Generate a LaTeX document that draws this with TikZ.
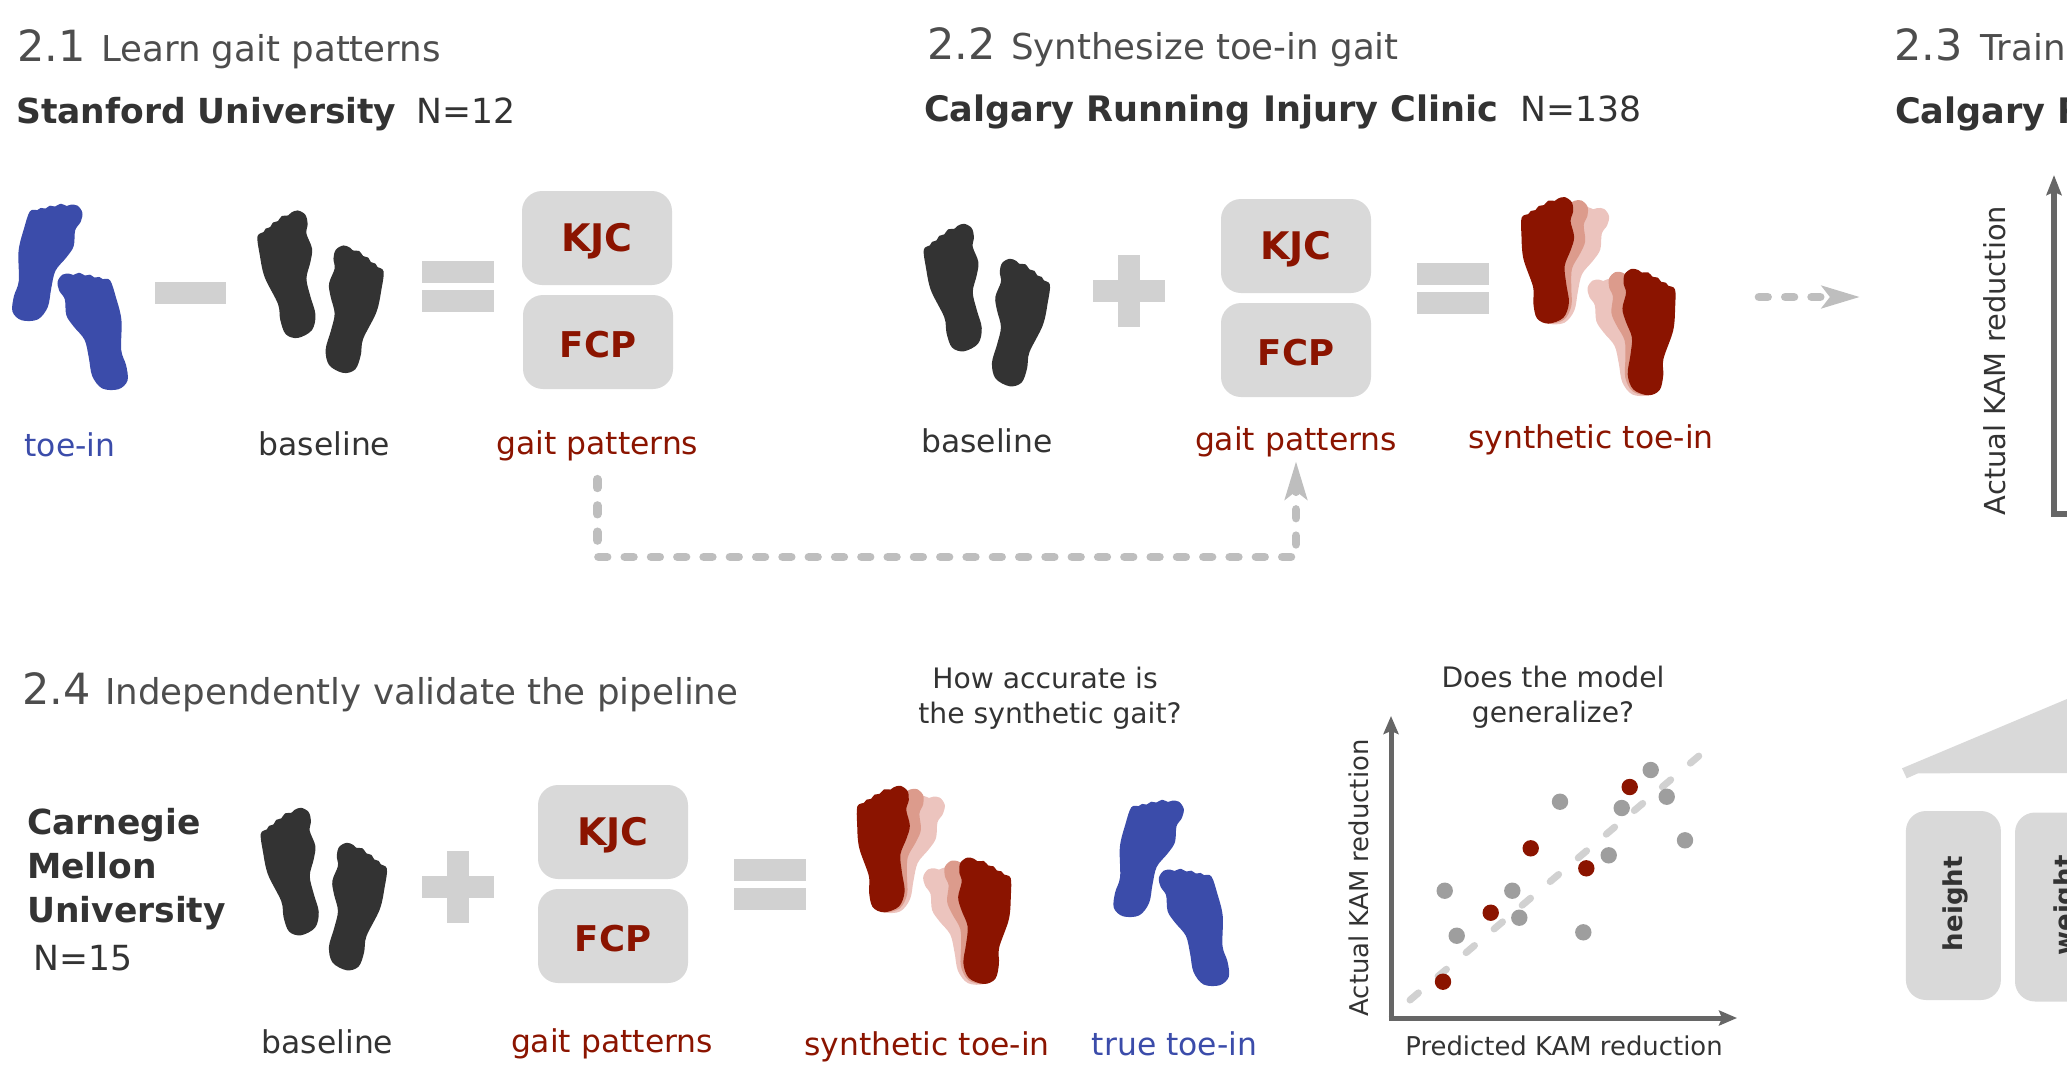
\documentclass[tikz,border=0pt]{standalone}
\usepackage{xcolor}
\usepackage{fontspec}
\setmainfont{DejaVu Sans}
\usetikzlibrary{arrows.meta, positioning, calc}
\definecolor{mydark}{RGB}{51,51,51}
\definecolor{myhead}{RGB}{77,77,77}
\definecolor{myred}{RGB}{139,20,0}
\definecolor{myblue}{RGB}{59,76,170}
\definecolor{mygray}{RGB}{217,217,217}
\definecolor{mysign}{RGB}{209,209,209}
\definecolor{myaxis}{RGB}{102,102,102}
\definecolor{mydot}{RGB}{158,158,158}
\definecolor{myroute}{RGB}{190,190,190}
\definecolor{fadeout}{RGB}{236,196,190}
\definecolor{fademid}{RGB}{220,155,140}
\tikzset{
  numlabel/.style={font=\fontsize{43}{50}\selectfont, text=myhead, inner sep=0pt, anchor=base west},
  headlabel/.style={font=\fontsize{35.6}{42}\selectfont, text=myhead, inner sep=0pt, anchor=base west},
  sitelabel/.style={font=\fontsize{34.5}{40}\selectfont\bfseries, text=mydark, inner sep=0pt, anchor=base west},
  widesite/.style={font=\fontsize{35.1}{40}\selectfont\bfseries},
  countlabel/.style={font=\fontsize{34.6}{40}\selectfont, text=mydark, inner sep=0pt, anchor=base west},
  darklabel/.style={font=\fontsize{31.4}{36}\selectfont, text=mydark, inner sep=0pt, anchor=base},
  redlabel/.style={font=\fontsize{31.4}{36}\selectfont, text=myred, inner sep=0pt, anchor=base},
  bluelabel/.style={font=\fontsize{31.4}{36}\selectfont, text=myblue, inner sep=0pt, anchor=base},
  asklabel/.style={font=\fontsize{28.2}{35}\selectfont, text=mydark, inner sep=0pt, anchor=base},
  axislabel/.style={font=\fontsize{25.9}{32}\selectfont, text=mydark, inner sep=0pt},
  biglabel/.style={font=\fontsize{28.9}{34}\selectfont, text=mydark, inner sep=0pt},
  patbox/.style={rectangle, fill=mygray, rounded corners=20pt, minimum width=150pt,
    minimum height=94pt, inner sep=0pt, text=myred, text height=27pt, text depth=0pt,
    font=\fontsize{38}{44}\selectfont\bfseries},
  fcpbox/.style={patbox, text height=30pt, font=\fontsize{35.5}{44}\selectfont\bfseries},
  featbox/.style={rectangle, fill=mygray, rounded corners=20pt, minimum width=95pt,
    minimum height=189pt, inner sep=0pt},
  featlabel/.style={font=\fontsize{26}{32}\selectfont\bfseries, text=mydark, inner sep=0pt, rotate=90},
  signbar/.style={fill=mysign},
  axisarrow/.style={-{Stealth[length=18pt, width=15pt, inset=3pt]}, line width=5pt, color=myaxis},
  routearrow/.style={-{Stealth[length=38pt, width=22pt, inset=8pt]}, line width=8.7pt, color=myroute,
    line cap=round, dash pattern=on 8.6pt off 17.7pt},
  fitline/.style={line width=7pt, color=mysign, line cap=round, dash pattern=on 11pt off 25.7pt},
  graydot/.style={fill=mydot},
  reddot/.style={fill=myred}
}
% foot outline, heel at the origin
\newcommand{\footpath}{plot[smooth cycle, tension=0.55] coordinates {
  (0,-126.5) (7,-122.5) (9.2,-114) (8,-104) (13.6,-89) (12,-76) (8,-59) (12,-41)
  (17,-23) (13.6,-8) (0,-0.5) (-11.4,-4) (-16.7,-18) (-19,-34) (-32.4,-61) (-37.4,-84)
  (-39.5,-101) (-33.7,-105) (-31.5,-108.5) (-27,-110) (-24.3,-114.5) (-19.3,-116)
  (-15.5,-121) (-9.3,-121.5) (-6,-124.5)}}
\newcommand{\leftfoot}[4]{\filldraw[draw=#4, fill=#4, line width=1.5pt, line join=round,
  shift={(#1,#2)}, rotate=-#3] \footpath;}
\newcommand{\rightfoot}[4]{\filldraw[draw=#4, fill=#4, line width=1.5pt, line join=round,
  shift={(#1,#2)}, rotate=#3, xscale=-1] \footpath;}
\newcommand{\darkfeet}[2]{
  \leftfoot{#1}{#2}{0}{mydark}
  \rightfoot{#1+45.7}{#2+35}{0}{mydark}}
\newcommand{\bluefeet}[2]{
  \leftfoot{#1}{#2}{26}{myblue}
  \rightfoot{#1+96.6}{#2+69}{26}{myblue}}
\newcommand{\synthfeet}[2]{
  \leftfoot{#1}{#2}{26}{fadeout}
  \leftfoot{#1}{#2}{15}{fademid}
  \leftfoot{#1}{#2}{7.5}{myred}
  \rightfoot{#1+100}{#2+71.7}{26}{fadeout}
  \rightfoot{#1+100}{#2+71.7}{15}{fademid}
  \rightfoot{#1+100}{#2+71.7}{7.5}{myred}}
% plus and equals signs, given by their centre
\newcommand{\plussign}[2]{
  \fill[signbar] (#1-36,#2-11) rectangle (#1+36,#2+11);
  \fill[signbar] (#1-11,#2-36) rectangle (#1+11,#2+36);}
\newcommand{\equalsign}[2]{
  \fill[signbar] (#1-36,#2-25.5) rectangle (#1+36,#2-3.5);
  \fill[signbar] (#1-36,#2+3.5) rectangle (#1+36,#2+25.5);}

\begin{document}
\begin{tikzpicture}[x=1pt, y=-1pt]
  \path[use as bounding box, clip] (0,0) rectangle (2067,1088);

  % Section 2.1
  \node[numlabel] (numA) at (17,61) {2.1};
  \node[headlabel] (headA) at (101,61) {Learn gait patterns};
  \node[sitelabel] (siteA) at (16,123) {Stanford University};
  \node[countlabel] (countA) at (416,123) {N=12};
  \bluefeet{21.7}{320}
  \fill[signbar] (155,282) rectangle (226,304);
  \darkfeet{297.7}{337.7}
  \equalsign{458}{286.5}
  \node[patbox] (kjcA) at (597,238) {KJC};
  \node[fcpbox] (fcpA) at (598,342) {FCP};
  \node[bluelabel] (toeA) at (70,456.8) {toe-in};
  \node[darklabel] (baseA) at (324.5,455.8) {baseline};
  \node[redlabel] (gaitA) at (597.3,454.8) {gait patterns};

  % Section 2.2
  \node[numlabel] (numB) at (927,59) {2.2};
  \node[headlabel] (headB) at (1011,59) {Synthesize toe-in gait};
  \node[sitelabel, widesite] (siteB) at (924,121) {Calgary Running Injury Clinic};
  \node[countlabel] (countB) at (1520,121) {N=138};
  \darkfeet{964}{351}
  \plussign{1129}{291}
  \node[patbox] (kjcB) at (1296,246) {KJC};
  \node[fcpbox] (fcpB) at (1296,350) {FCP};
  \equalsign{1453}{288.5}
  \synthfeet{1548.3}{323.3}
  \node[darklabel] (baseB) at (987,452.8) {baseline};
  \node[redlabel] (gaitB) at (1296,450.8) {gait patterns};
  \node[redlabel] (synthB) at (1591,448.8) {synthetic toe-in};

  % Routes between the sections
  \draw[routearrow] ([yshift=-17.7pt]gaitA.south) -- ++(0,77.7) -| ([yshift=-3.7pt]gaitB.south);
  \coordinate (routestart) at (1759,297);
  \coordinate (routeend) at (1860,297);
  \draw[routearrow] (routestart) -- (routeend);

  % Section 2.3
  \node[numlabel] (numC) at (1894,60) {2.3};
  \node[headlabel] (headC) at (1980,60) {Train};
  \node[sitelabel, widesite] (siteC) at (1895,123) {Calgary R};
  \node[biglabel, rotate=90] (actualC) at (1995,360.5) {Actual KAM reduction};
  \coordinate (originC) at (2054,517);
  \coordinate (topC) at (2054,175);
  \coordinate (rightC) at (2090,514);
  \draw[axisarrow, line width=6pt, -{Stealth[length=20pt, width=15pt, inset=3pt]}] (originC) -- (topC);
  \draw[line width=6pt, color=myaxis] (2051,514) -- (rightC);
  \fill[mygray] (1902,768.3) -- (2067,699) -- (2067,773) -- (1918,773.3) -- (1906.7,778.3) -- cycle;
  \node[featbox] (heightbox) at (1953.4,905.5) {};
  \node[featbox] (weightbox) at (2062.5,907) {};
  \node[featlabel, xshift=1.8pt, yshift=-2pt] (heightlabel) at (heightbox) {height};
  \node[featlabel] (weightlabel) at (2066,905.5) {weight};

  % Section 2.4
  \node[numlabel] (numD) at (22,704.5) {2.4};
  \node[headlabel] (headD) at (105,704.5) {Independently validate the pipeline};
  \node[sitelabel] (siteD1) at (27,834) {Carnegie};
  \node[sitelabel] (siteD2) at (27,878) {Mellon};
  \node[sitelabel] (siteD3) at (27,922) {University};
  \node[countlabel] (countD) at (33,970) {N=15};
  \darkfeet{301}{935}
  \plussign{458}{887}
  \node[patbox] (kjcD) at (613,832) {KJC};
  \node[fcpbox] (fcpD) at (613,936) {FCP};
  \equalsign{770}{884.5}
  \synthfeet{884}{912}
  \bluefeet{1123}{916}
  \node[darklabel] (baseD) at (327.5,1053) {baseline};
  \node[redlabel] (gaitD) at (612,1052.8) {gait patterns};
  \node[redlabel] (synthD) at (927,1055.8) {synthetic toe-in};
  \node[bluelabel] (trueD) at (1174.5,1055.8) {true toe-in};
  \node[asklabel] (askA1) at (1045,688) {How accurate is};
  \node[asklabel] (askA2) at (1050,723) {the synthetic gait?};
  \node[asklabel] (askB1) at (1553,687) {Does the model};
  \node[asklabel] (askB2) at (1553,722) {generalize?};

  % Scatter plot
  \coordinate (originD) at (1391,1018);
  \coordinate (topD) at (1391,716);
  \coordinate (rightD) at (1737,1018);
  \coordinate (fitstart) at (1410,1000);
  \coordinate (fitend) at (1700,755);
  \draw[fitline] (fitstart) -- (fitend);
  \draw[axisarrow] (originD) -- (topD);
  \draw[axisarrow] (1388.5,1018) -- (rightD);
  \node[axislabel, rotate=90] (actualD) at (1359,878) {Actual KAM reduction};
  \node[axislabel, anchor=base] (predictedD) at (1564,1055) {Predicted KAM reduction};
  \fill[graydot] (1444.7,890.7) circle (8.2);
  \fill[graydot] (1456.7,935.7) circle (8.2);
  \fill[graydot] (1512.3,890.7) circle (8.2);
  \fill[graydot] (1519.3,917.7) circle (8.2);
  \fill[graydot] (1560,801.7) circle (8.2);
  \fill[graydot] (1583.3,932.3) circle (8.2);
  \fill[graydot] (1608.7,855.3) circle (8.2);
  \fill[graydot] (1621.7,808) circle (8.2);
  \fill[graydot] (1650.7,770) circle (8.2);
  \fill[graydot] (1666.7,796.7) circle (8.2);
  \fill[graydot] (1685,840.3) circle (8.2);
  \fill[reddot] (1443,981.7) circle (8.2);
  \fill[reddot] (1490.7,912.7) circle (8.2);
  \fill[reddot] (1530.7,848.3) circle (8.2);
  \fill[reddot] (1586.3,868.3) circle (8.2);
  \fill[reddot] (1629.7,787) circle (8.2);
\end{tikzpicture}
\end{document}
